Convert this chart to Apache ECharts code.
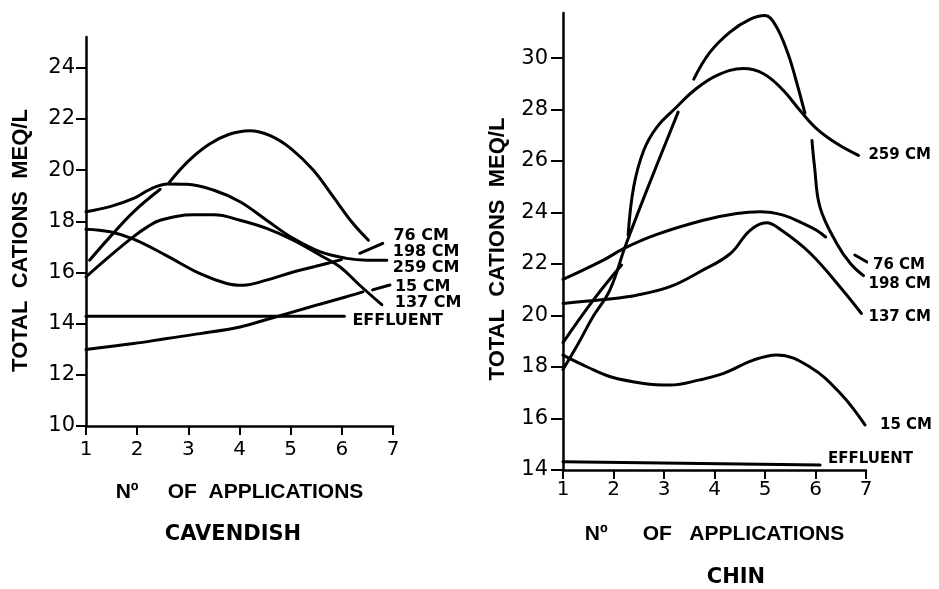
<!DOCTYPE html>
<html>
<head>
<meta charset="utf-8">
<script src="https://cdn.jsdelivr.net/npm/echarts@6/dist/echarts.min.js"></script>
<style>
  html, body { margin: 0; padding: 0; background: #fff; }
  #chart { width: 939px; height: 589px; }
</style>
</head>
<body>
<div id="chart"></div>
<script>
// tick labels
var xTicks = [1, 2, 3, 4, 5, 6, 7];
var cavTicks = [10, 12, 14, 16, 18, 20, 22, 24];
var chinTicks = [14, 16, 18, 20, 22, 24, 26, 28, 30];

// CAVENDISH: [no. of applications, total cations meq/L], '-' = pen lifted
var cav76 = [[1.07, 16.48], [1.47, 17.39], [1.93, 18.37], [2.45, 19.25], [2.53, '-'], [2.62, 19.5], [3.0, 20.35], [3.4, 21.0], [3.8, 21.4], [4.2, 21.54], [4.6, 21.35], [5.0, 20.85], [5.44, 20.0], [5.83, 18.96], [6.22, 17.91], [6.52, 17.26]];
var cav198 = [[1, 17.69], [1.47, 17.59], [1.93, 17.3], [2.58, 16.65], [3.23, 15.95], [3.75, 15.57], [4.07, 15.5], [4.53, 15.7], [5.05, 16.02], [5.57, 16.28], [5.99, 16.5], [6.17, '-'], [6.35, 16.75], [6.8, 17.14]];
var cav259 = [[1, 18.37], [1.47, 18.57], [1.93, 18.89], [2.25, 19.25], [2.6, 19.46], [2.97, 19.45], [3.49, 19.22], [4.01, 18.76], [4.53, 18.04], [5.05, 17.33], [5.57, 16.81], [6.09, 16.55], [6.49, 16.48], [6.88, 16.48]];
var cav15 = [[1, 12.99], [1.93, 13.22], [2.58, 13.42], [3.23, 13.61], [4.01, 13.87], [4.53, 14.16], [5.05, 14.46], [5.57, 14.76], [6.09, 15.05], [6.41, 15.24], [6.5, '-'], [6.6, 15.32], [6.94, 15.51]];
var cav137 = [[1, 15.83], [1.47, 16.65], [1.93, 17.4], [2.2, 17.78], [2.45, 18.04], [3.1, 18.25], [3.5, 18.25], [4.01, 18.04], [4.53, 17.72], [5.05, 17.26], [5.57, 16.68], [5.96, 16.22], [6.35, 15.5], [6.78, 14.74]];
var cavEff = [[1, 14.29], [6.05, 14.29]];

// CHIN
var chin259 = [[1, 18.95], [1.6, 20.6], [2.16, 21.96], [2.23, '-'], [2.29, 23.13], [2.4, 25.0], [2.6, 26.42], [2.86, 27.32], [3.25, 28.1], [3.6, 28.75], [4.05, 29.33], [4.57, 29.59], [4.97, 29.39], [5.36, 28.75], [5.69, 27.97], [6.02, 27.26], [6.42, 26.68], [6.85, 26.22]];
var chin76 = [[1, 21.4], [1.8, 22.15], [2.2, 22.6], [2.86, 23.15], [3.78, 23.7], [4.44, 23.96], [4.9, 24.03], [5.36, 23.9], [5.76, 23.57], [6.02, 23.31], [6.2, 23.05], [6.5, '-'], [6.78, 22.35], [7.02, 22.08]];
var chin198 = [[1, 17.9], [1.3, 18.9], [1.59, 19.94], [1.93, 21.0], [2.23, 22.67], [2.66, 24.87], [3.28, 27.9], [3.43, '-'], [3.59, 29.18], [3.9, 30.2], [4.3, 31.0], [4.7, 31.5], [5.0, 31.65], [5.2, 31.3], [5.45, 30.2], [5.62, 29.1], [5.79, 27.86], [5.86, '-'], [5.93, 26.8], [5.98, 25.8], [6.09, 24.2], [6.42, 22.8], [6.7, 22.0], [6.95, 21.55]];
var chin137 = [[1, 20.47], [1.8, 20.62], [2.46, 20.79], [3.12, 21.12], [3.71, 21.7], [4.31, 22.4], [4.7, 23.3], [5.03, 23.6], [5.3, 23.35], [5.89, 22.43], [6.49, 21.1], [6.91, 20.08]];
var chin15 = [[1, 18.46], [1.47, 18.01], [1.94, 17.62], [2.6, 17.36], [3.12, 17.3], [3.71, 17.5], [4.18, 17.75], [4.77, 18.27], [5.23, 18.47], [5.89, 18.0], [6.49, 16.98], [6.98, 15.75]];
var chinEff = [[1, 14.32], [6.09, 14.19]];

var ink = '#000';
var chart = echarts.init(document.getElementById('chart'));

function curve(data, g) {
	return {
		type: 'line', xAxisIndex: g, yAxisIndex: g, data: data,
		smooth: 0.4, showSymbol: false, silent: true,
		lineStyle: { color: ink, width: 3, cap: 'round' }
	};
}

function xAxis(g, gap, margin) {
	return {
		type: 'value', gridIndex: g, min: 1, max: 7,
		name: g === 0 ? 'Nº     OF  APPLICATIONS' : 'Nº      OF   APPLICATIONS',
		nameLocation: 'middle', nameGap: gap,
		nameTextStyle: { color: ink, fontFamily: 'Liberation Sans', fontWeight: 'bold', fontSize: 21 },
		axisLine: { lineStyle: { color: ink, width: 2.5 } },
		axisTick: { customValues: xTicks, length: 9, lineStyle: { color: ink, width: 2 } },
		axisLabel: { customValues: xTicks, margin: margin, color: ink, fontFamily: 'DejaVu Sans', fontSize: 20 },
		splitLine: { show: false }
	};
}

// pad shifts the rotated name down the axis a little, as in the drawing
function yAxis(g, min, max, ticks, tickLen, margin, pad) {
	return {
		type: 'value', gridIndex: g, min: min, max: max,
		name: 'TOTAL  CATIONS  MEQ/L', nameLocation: 'middle', nameRotate: 90, nameGap: 54,
		nameTextStyle: { color: ink, fontFamily: 'Liberation Sans', fontWeight: 'bold', fontSize: 22, padding: [0, pad, 0, 0] },
		axisLine: { show: true, lineStyle: { color: ink, width: 2.5 } },
		axisTick: { show: true, customValues: ticks, length: tickLen, lineStyle: { color: ink, width: 2 } },
		axisLabel: { customValues: ticks, margin: margin, color: ink, fontFamily: 'DejaVu Sans', fontSize: 21 },
		splitLine: { show: false }
	};
}

var option = {
	backgroundColor: '#fff',
	animation: false,
	grid: [
		{ left: 86, top: 37, width: 307, height: 389 },
		{ left: 563, top: 13, width: 303, height: 457 }
	],
	xAxis: [xAxis(0, 56, 14), xAxis(1, 54, 10)],
	yAxis: [yAxis(0, 10, 25.2, cavTicks, 10, 11, 18), yAxis(1, 14, 31.75, chinTicks, 12, 15, 15)],
	series: [
		curve(cav76, 0), curve(cav198, 0), curve(cav259, 0), curve(cav15, 0), curve(cav137, 0), curve(cavEff, 0),
		curve(chin259, 1), curve(chin76, 1), curve(chin198, 1), curve(chin137, 1), curve(chin15, 1), curve(chinEff, 1)
	]
};
chart.setOption(option);

// curve labels sit just past the end of each pen stroke
var curveLabels = [
	{ data: cav76, text: '76 CM', g: 0, dx: 25, dy: -4, size: 16 },
	{ data: cav198, text: '198 CM', g: 0, dx: 10, dy: 9, size: 16 },
	{ data: cav259, text: '259 CM', g: 0, dx: 6, dy: 8, size: 16 },
	{ data: cav15, text: '15 CM', g: 0, dx: 5, dy: 2, size: 16 },
	{ data: cav137, text: '137 CM', g: 0, dx: 13, dy: -2, size: 16 },
	{ data: cavEff, text: 'EFFLUENT', g: 0, dx: 8, dy: 5, size: 16 },
	{ data: chin259, text: '259 CM', g: 1, dx: 10, dy: 0, size: 15 },
	{ data: chin76, text: '76 CM', g: 1, dx: 6, dy: 3, size: 15 },
	{ data: chin198, text: '198 CM', g: 1, dx: 5, dy: 8, size: 15 },
	{ data: chin137, text: '137 CM', g: 1, dx: 7, dy: 4, size: 15 },
	{ data: chin15, text: '15 CM', g: 1, dx: 15, dy: 0, size: 15 },
	{ data: chinEff, text: 'EFFLUENT', g: 1, dx: 8, dy: -6, size: 15 }
];

function lastPoint(arr) {
	for (var i = arr.length - 1; i >= 0; i--) {
		if (typeof arr[i][1] === 'number') return arr[i];
	}
}

var elems = [];
curveLabels.forEach(function (l) {
	var p = chart.convertToPixel({ gridIndex: l.g }, lastPoint(l.data));
	elems.push({
		type: 'text', x: p[0] + l.dx, y: p[1] + l.dy, silent: true,
		style: { text: l.text, fill: ink, fontFamily: 'DejaVu Sans', fontWeight: 'bold', fontSize: l.size, align: 'left', verticalAlign: 'middle' }
	});
});
elems.push({
	type: 'text', x: 233, y: 535, silent: true,
	style: { text: 'CAVENDISH', fill: ink, fontFamily: 'DejaVu Sans', fontWeight: 'bold', fontSize: 21, align: 'center', verticalAlign: 'middle' }
});
elems.push({
	type: 'text', x: 736, y: 578, silent: true,
	style: { text: 'CHIN', fill: ink, fontFamily: 'DejaVu Sans', fontWeight: 'bold', fontSize: 21, align: 'center', verticalAlign: 'middle' }
});
chart.setOption({ graphic: elems });
</script>
</body>
</html>
